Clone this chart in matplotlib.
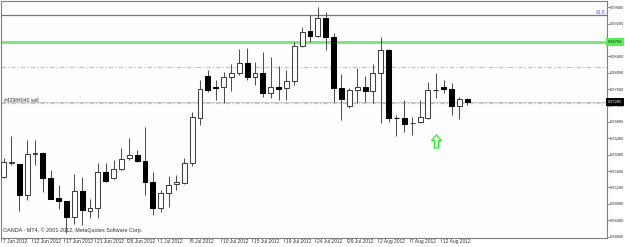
import matplotlib
matplotlib.use("Agg")
import matplotlib.pyplot as plt
from matplotlib.patches import Rectangle
from matplotlib.path import Path
from matplotlib.transforms import ScaledTranslation
import numpy as np

# ---------------- data ----------------
opens = [
    0.95463, 0.95805, 0.95766, 0.95017, 0.96010, 0.96049, 0.95439, 0.94951, 0.94871, 0.94488,
    0.95122, 0.94634, 0.94700, 0.95578, 0.95432, 0.95651, 0.95920, 0.95993, 0.95846, 0.95341,
    0.94700, 0.95066, 0.95285, 0.95310, 0.95798, 0.96895, 0.97920, 0.97640, 0.97651, 0.97895,
    0.97993, 0.98237, 0.97895, 0.97993, 0.97505, 0.97651, 0.97627, 0.97798, 0.98651, 0.99017,
    0.98895, 0.99334, 0.98871, 0.97627, 0.97188, 0.97578, 0.97651, 0.97554, 0.97993, 0.98554,
    0.96900, 0.96895, 0.96775, 0.96798, 0.96895, 0.97590, 0.97651, 0.97602, 0.97188, 0.97359]
closes = [
    0.95829, 0.95815, 0.95017, 0.96017, 0.96049, 0.95439, 0.94920, 0.94871, 0.94488, 0.95122,
    0.94651, 0.94700, 0.95578, 0.95359, 0.95651, 0.95902, 0.95993, 0.95846, 0.95341, 0.94700,
    0.95066, 0.95261, 0.95334, 0.95798, 0.96920, 0.97602, 0.97578, 0.97634, 0.97895, 0.97993,
    0.98237, 0.97895, 0.97993, 0.97505, 0.97651, 0.97602, 0.97798, 0.98651, 0.98993, 0.98895,
    0.99334, 0.98871, 0.97627, 0.97359, 0.97578, 0.97651, 0.97554, 0.97993, 0.98554, 0.96895,
    0.96895, 0.96749, 0.96780, 0.96920, 0.97578, 0.97578, 0.97602, 0.97188, 0.97359, 0.97285]
highs = [
    0.95920, 0.96456, 0.95780, 0.96359, 0.96359, 0.96060, 0.95627, 0.95261, 0.94880, 0.95529,
    0.95456, 0.94920, 0.95798, 0.95798, 0.95870, 0.96163, 0.96407, 0.96110, 0.96683, 0.95578,
    0.95139, 0.95480, 0.95500, 0.95927, 0.97041, 0.97822, 0.98066, 0.97822, 0.98017, 0.98212,
    0.98578, 0.98602, 0.98261, 0.98505, 0.98383, 0.98163, 0.98066, 0.98749, 0.99115, 0.99407,
    0.99602, 0.99480, 0.98968, 0.97968, 0.97627, 0.98115, 0.97920, 0.98212, 0.98871, 0.98578,
    0.96968, 0.97334, 0.96920, 0.97334, 0.97773, 0.97993, 0.97822, 0.97749, 0.97407, 0.97383]
lows = [
    0.95420, 0.95749, 0.94634, 0.94895, 0.95749, 0.95098, 0.94910, 0.94676, 0.94090, 0.94310,
    0.94285, 0.94456, 0.94463, 0.95334, 0.95400, 0.95627, 0.95870, 0.95820, 0.95017, 0.94529,
    0.94602, 0.94724, 0.95139, 0.95285, 0.95724, 0.96724, 0.97529, 0.97334, 0.97261, 0.97554,
    0.97940, 0.97822, 0.97700, 0.97407, 0.97383, 0.97334, 0.97334, 0.97700, 0.98630, 0.98749,
    0.98871, 0.98554, 0.97285, 0.96846, 0.97140, 0.97261, 0.97285, 0.97261, 0.96773, 0.96798,
    0.96456, 0.96554, 0.96480, 0.96773, 0.96871, 0.97383, 0.97505, 0.96968, 0.96871, 0.97212]

date_labels = ["7 Jun 2012", "12 Jun 2012", "17 Jun 2012", "21 Jun 2012", "26 Jun 2012",
               "1 Jul 2012", "5 Jul 2012", "10 Jul 2012", "15 Jul 2012", "19 Jul 2012",
               "24 Jul 2012", "29 Jul 2012", "2 Aug 2012", "7 Aug 2012", "12 Aug 2012"]
date_label_bars = [1, 5, 9, 13, 17, 21, 25, 29, 33, 37, 41, 45, 49, 53, 57]

price_ticks = [0.940, 0.944, 0.948, 0.952, 0.956, 0.960, 0.964, 0.968,
               0.972, 0.976, 0.980, 0.984, 0.988, 0.992, 0.996]

fib_level = 0.99407
fib_label = "61.8"
resistance_level = 0.98756
dashdot_level = 0.98146
sell_level = 0.97254
sell_label = "#42984040 sell"
bid_price = 0.97285
arrow_bar = 56
arrow_price = 0.96322
copyright_text = "OANDA - MT4, \u00a9 2001-2012, MetaQuotes Software Corp."

# ---------------- figure ----------------
W, H = 625, 247
fig = plt.figure(figsize=(W / 100, H / 100), dpi=100)
fig.patch.set_facecolor("white")
ax_l, ax_r, ax_t, ax_b = 1.0, 606.7, 1.5, 238.0
ax = fig.add_axes([ax_l / W, 1 - ax_b / H, (ax_r - ax_l) / W, (ax_b - ax_t) / H])
ax.set_facecolor("#fdfefd")

n = len(opens)
bars = np.arange(1, n + 1)
ax.set_xlim(0.784, 77.75)
ax.set_ylim(0.93968, 0.99737)

grey = "#808080"
for s in ax.spines.values():
    s.set_color(grey)
    s.set_linewidth(0.8)

# level lines
ax.axhline(fib_level, color="#6b6bd0", lw=0.9, zorder=1)
ax.axhline(resistance_level, color="#7ee87e", lw=2.2, zorder=1)
ax.axhline(dashdot_level, color="#ffae90", lw=0.9, dashes=(3.6, 1.6, 1.0, 1.6), zorder=1)
ax.axhline(bid_price, color="#c8c8c8", lw=0.7, zorder=1)
ax.axhline(sell_level, color="#a8d4a8", lw=0.9, dashes=(3.6, 1.6, 1.0, 1.6), zorder=1)

# candles
bw = 0.62
for b, o, h, l, c in zip(bars, opens, highs, lows, closes):
    ax.vlines(b, l, h, color="#505050", lw=0.75, zorder=2)
    bull = c >= o
    lo, hi = min(o, c), max(o, c)
    ht = max(hi - lo, 0.00003)
    rect = Rectangle((b - bw / 2, lo), bw, ht,
                     facecolor="white" if bull else "black",
                     edgecolor="#404040" if bull else "black",
                     lw=0.75, zorder=3)
    ax.add_patch(rect)

# arrow marker
arrow_verts = [(0, 1), (0.75, 0.15), (0.33, 0.15), (0.33, -1), (-0.33, -1),
               (-0.33, 0.15), (-0.75, 0.15), (0, 1)]
arrow_path = Path(arrow_verts, closed=True)
ax.plot([arrow_bar], [arrow_price], marker=arrow_path, ms=9.4, mfc="white",
        mec="#22ee22", mew=0.9, ls="none", zorder=4)

fam = ["Liberation Sans", "DejaVu Sans"]
ysize = 2.9

# axis ticks
ax.yaxis.tick_right()
ax.set_yticks(price_ticks)
ax.set_yticklabels([f"{p:.5f}" for p in price_ticks])
ax.tick_params(axis="y", which="both", direction="out", length=1.8, width=0.6,
               color=grey, labelsize=ysize, pad=0.6, labelcolor="#333333")
tick_pos = [b - 0.33 for b in date_label_bars]
ax.set_xticks(tick_pos)
ax.set_xticklabels(date_labels)
ax.tick_params(axis="x", which="both", direction="out", length=2.9, width=0.6,
               color=grey, labelsize=3.5, pad=-2.4, labelcolor="#333333")
shift = ScaledTranslation(1.2 / 72, 0, fig.dpi_scale_trans)
for lab in ax.get_xticklabels():
    lab.set_horizontalalignment("left")
    lab.set_transform(lab.get_transform() + shift)
for lab in ax.get_xticklabels() + ax.get_yticklabels():
    lab.set_family(fam)

ty = ax.get_yaxis_transform()
# axis price labels
ax.text(1.0 + 1.0 / (ax_r - ax_l), resistance_level, f"{resistance_level:.5f}",
        transform=ty, ha="left", va="center", fontsize=ysize, family=fam, color="#222222",
        bbox=dict(boxstyle="square,pad=0.45", fc="#55ee55", ec="none"), clip_on=False, zorder=6)
ax.text(1.0 + 1.0 / (ax_r - ax_l), bid_price, f"{bid_price:.5f}",
        transform=ty, ha="left", va="center", fontsize=ysize, family=fam, color="white",
        bbox=dict(boxstyle="square,pad=0.45", fc="black", ec="none"), clip_on=False, zorder=6)

# line labels
ax.text(0.9985, fib_level, fib_label, transform=ty, ha="right", va="bottom",
        fontsize=3.6, family=fam, color="#5555cc")
ax.text(0.005, sell_level, sell_label, transform=ty, ha="left", va="bottom",
        fontsize=3.6, family=fam, color="#333333")

# copyright
ax.text(0.004, 0.022, copyright_text, transform=ax.transAxes, ha="left", va="bottom",
        fontsize=3.9, family=fam, color="#333333")

fig.savefig("out.png", dpi=100, facecolor="white")
